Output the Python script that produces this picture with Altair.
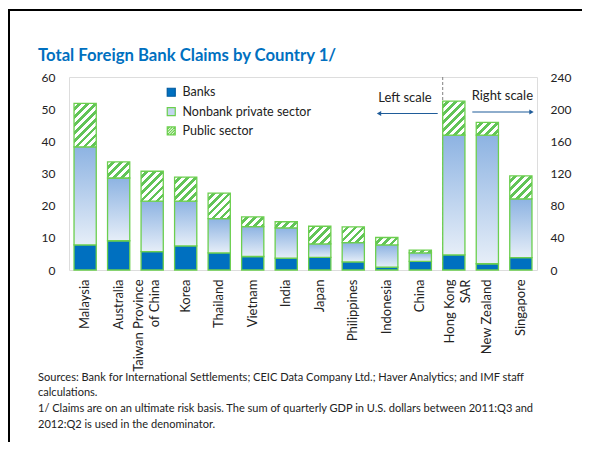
import math
import altair as alt
import pandas as pd

# ---------------- data ----------------
countries = ["Malaysia", "Australia", "Taiwan Province of China", "Korea", "Thailand",
             "Vietnam", "India", "Japan", "Philippines", "Indonesia", "China",
             "Hong Kong SAR", "New Zealand", "Singapore"]
scale_side = ["left"] * 11 + ["right"] * 3
banks = [7.8, 9.1, 5.7, 7.5, 5.3, 4.2, 3.7, 3.9, 2.5, 0.9, 2.7, 18.7, 7.8, 15.3]
nonbank = [30.5, 19.5, 15.7, 13.9, 10.7, 9.3, 9.4, 4.2, 6.0, 6.9, 2.6, 149.0, 159.9, 73.2]
public = [13.5, 5.0, 9.3, 7.5, 7.9, 3.0, 1.9, 5.5, 4.9, 2.3, 0.9, 42.3, 15.8, 28.5]
sectors = ["Banks", "Nonbank private sector", "Public sector"]
left_ticks = [0, 10, 20, 30, 40, 50, 60]
right_ticks = [0, 40, 80, 120, 160, 200, 240]
label_lines = {"Taiwan Province of China": ["Taiwan Province", "of China"],
               "Hong Kong SAR": ["Hong Kong", "SAR"]}
label_shift = {"Taiwan Province of China": -13, "Hong Kong SAR": -4}
title_text = "Total Foreign Bank Claims by Country 1/"
note_lines = [
    "Sources: Bank for International Settlements; CEIC Data Company Ltd.; Haver Analytics; and IMF staff",
    "calculations.",
    "1/ Claims are on an ultimate risk basis.  The sum of quarterly GDP in U.S. dollars between 2011:Q3 and",
    "2012:Q2 is used in the denominator.",
]
left_label = "Left scale"
right_label = "Right scale"

# ---------------- styling / geometry ----------------
W, H = 468, 193
N = len(countries)
P_IN, P_OUT = 0.337, 0.15
STEP = W / (N - P_IN + 2 * P_OUT)
BW = STEP * (1 - P_IN)
BLUE = "#0070c0"
GREEN = "#6ccf4e"
HATCH = "#62c457"
ARROW = "#1f5c99"
TEXT = "#222222"
FONT = "Lato"
SW = 1.3

rows = []
for i, c in enumerate(countries):
    for j, (s, v) in enumerate(zip(sectors, [banks[i], nonbank[i], public[i]])):
        rows.append(dict(country=c, side=scale_side[i], sector=s, order=j, value=v))
df = pd.DataFrame(rows)


def hatch(h_px, w_px=BW, period=5.6, frac=0.52):
    h = max(h_px, 1.0)
    w = w_px
    k = (1 / h + 1 / w) / (1 / h ** 2 + 1 / w ** 2)
    gx, gy = k / h, k / w
    n = (w + h) / math.sqrt(2) / period
    stops = []
    i = 0
    while i / n < 1:
        a = i / n
        b = min((i + frac) / n, 1)
        c = min((i + 1) / n, 1)
        stops += [(a, "#ffffff"), (b, "#ffffff"), (b, HATCH), (c, HATCH)]
        i += 1
    return alt.LinearGradient(gradient="linear", x1=0, y1=0, x2=gx, y2=gy,
                              stops=[alt.GradientStop(offset=o, color=col) for o, col in stops])


nb_grad = alt.LinearGradient(gradient="linear", x1=0, y1=0, x2=0, y2=1,
                             stops=[alt.GradientStop(offset=0, color="#8db3e2"),
                                    alt.GradientStop(offset=1, color="#e6eef8")])

label_expr = ""
for k, v in label_lines.items():
    label_expr += "datum.value == '%s' ? [%s] : " % (k, ", ".join("'%s'" % s for s in v))
label_expr += "datum.label"
label_offset = {"condition": [{"test": "datum.value == '%s'" % k, "value": v}
                              for k, v in label_shift.items()],
                "value": 0}

x_axis = alt.Axis(title=note_lines, labelAngle=-90, labelExpr=label_expr, labelFont=FONT,
                  labelFontSize=13, labelColor=TEXT, labelPadding=9, labelLineHeight=16,
                  labelOffset=label_offset,
                  domain=False, ticks=False, grid=False,
                  titleX=-31.5, titleY=110, titleAlign="left", titleAngle=0,
                  titleBaseline="alphabetic", titleFont=FONT, titleFontSize=11.05,
                  titleFontWeight="normal", titleColor=TEXT, titleLineHeight=15.7)


def X(**kw):
    return alt.X("country:N", sort=countries,
                 scale=alt.Scale(domain=countries, paddingInner=P_IN, paddingOuter=P_OUT),
                 axis=x_axis, **kw)


def y_axis(orient, ticks, pad):
    return alt.Axis(orient=orient, values=ticks, title=None, domain=False, ticks=False,
                    grid=False, labelPadding=pad, labelFont=FONT, labelFontSize=12,
                    labelColor=TEXT)


YL = alt.Y("y0:Q", scale=alt.Scale(domain=[0, 60], nice=False), axis=y_axis("left", left_ticks, 14))
YR = alt.Y("y0:Q", scale=alt.Scale(domain=[0, 240], nice=False), axis=y_axis("right", right_ticks, 13))


def bar_layers(sd, YY, ymax):
    base = (alt.Chart(df)
            .transform_filter(alt.datum.side == sd)
            .transform_stack(stack="value", groupby=["country"], as_=["y0", "y1"],
                             sort=[alt.SortField("order", order="ascending")]))
    out = [
        base.transform_filter(alt.datum.sector == "Banks")
        .mark_bar(fill=BLUE, stroke=GREEN, strokeWidth=SW)
        .encode(x=X(), y=YY, y2=alt.Y2("y1:Q")),
        base.transform_filter(alt.datum.sector == "Nonbank private sector")
        .mark_bar(fill=nb_grad, stroke=GREEN, strokeWidth=SW)
        .encode(x=X(), y=YY, y2=alt.Y2("y1:Q")),
    ]
    for i, c in enumerate(countries):
        if scale_side[i] != sd:
            continue
        h = public[i] * H / ymax
        out.append(
            base.transform_filter((alt.datum.sector == "Public sector") & (alt.datum.country == c))
            .mark_bar(fill=hatch(h), stroke=GREEN, strokeWidth=SW)
            .encode(x=X(), y=YY, y2=alt.Y2("y1:Q")))
    return out


# legend (scales only, no marks drawn)
leg = alt.Legend(orient="none", legendX=96, legendY=9, title=None, symbolSize=64,
                 labelFont=FONT, labelFontSize=12.5, labelColor=TEXT, rowPadding=5.3,
                 labelOffset=5, symbolStrokeWidth=1.2)
hatch_path = ("M-1,-1H1V1H-1Z M-1,-0.33L-0.33,-1 M-1,0.33L0.33,-1 M-1,1L1,-1 "
              "M-0.33,1L1,-0.33 M0.33,1L1,0.33")
legend_layer = (alt.Chart(pd.DataFrame({"sector": sectors}))
                .transform_filter("false")
                .mark_point(filled=True, opacity=1)
                .encode(fill=alt.Fill("sector:N", scale=alt.Scale(domain=sectors, range=[BLUE, "#c3d5ee", "#ffffff"]), legend=leg),
                        stroke=alt.Stroke("sector:N", scale=alt.Scale(domain=sectors, range=["#005a9e", GREEN, GREEN]), legend=leg),
                        shape=alt.Shape("sector:N", scale=alt.Scale(domain=sectors, range=["square", "square", hatch_path]), legend=leg)))

one = pd.DataFrame({"k": [0]})
divider = (alt.Chart(pd.DataFrame({"country": ["Hong Kong SAR"]}))
           .mark_rule(color="#808080", strokeDash=[3, 2], strokeWidth=1)
           .encode(x=X(bandPosition=0), y=alt.value(0), y2=alt.value(H)))

ann = [
    alt.Chart(one).mark_text(text=left_label, align="right", baseline="middle", font=FONT,
                             fontSize=13, color=TEXT).encode(x=alt.value(362.7), y=alt.value(20.5)),
    alt.Chart(one).mark_rule(color=ARROW, strokeWidth=1.2).encode(
        x=alt.value(310), x2=alt.value(368.7), y=alt.value(36.5)),
    alt.Chart(one).mark_point(shape="triangle-left", filled=True, size=26, color=ARROW, opacity=1).encode(
        x=alt.value(310), y=alt.value(36.5)),
    alt.Chart(one).mark_text(text=right_label, align="left", baseline="middle", font=FONT,
                             fontSize=13, color=TEXT).encode(x=alt.value(402.7), y=alt.value(19)),
    alt.Chart(one).mark_rule(color=ARROW, strokeWidth=1.2).encode(
        x=alt.value(403.3), x2=alt.value(462), y=alt.value(35)),
    alt.Chart(one).mark_point(shape="triangle-right", filled=True, size=26, color=ARROW, opacity=1).encode(
        x=alt.value(462.5), y=alt.value(35)),
    # frame
    alt.Chart(one).mark_rule(color="black", strokeWidth=2).encode(
        x=alt.value(-61), x2=alt.value(540), y=alt.value(-67)),
    alt.Chart(one).mark_rule(color="black", strokeWidth=2).encode(
        x=alt.value(-60), y=alt.value(-67), y2=alt.value(400)),
]

left_group = alt.layer(*bar_layers("left", YL, 60), legend_layer, divider, *ann)
right_group = alt.layer(*bar_layers("right", YR, 240))

chart = (alt.layer(left_group, right_group)
         .resolve_scale(y="independent")
         .properties(width=W, height=H,
                     padding={"left": 61, "top": 69, "right": 45, "bottom": 172},
                     autosize=alt.AutoSizeParams(type="none"),
                     title=alt.TitleParams(text=title_text, anchor="start", frame="group",
                                           font=FONT, fontSize=16.7, fontWeight="bold",
                                           color=BLUE, offset=0, dx=-31, dy=69,
                                           baseline="alphabetic"))
         .configure_view(stroke="#d9d9d9", strokeWidth=1)
         .configure(font=FONT))

chart.save("out.html", embed_options={"renderer": "svg", "actions": False})
